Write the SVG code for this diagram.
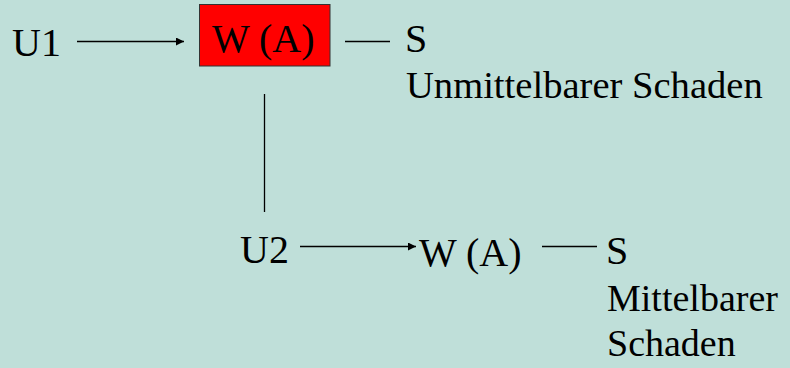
<svg xmlns="http://www.w3.org/2000/svg" width="790" height="368" viewBox="0 0 790 368">
<style>
.t{font-family:"Liberation Serif","Times New Roman",serif;fill:#000}
.big{font-size:40px}
.sm{font-size:38px}
.ln{stroke:#000;stroke-width:1.3;fill:none}
</style>
<defs>
<marker id="ah" viewBox="0 0 10 10" refX="10" refY="5" markerWidth="10" markerHeight="8" markerUnits="userSpaceOnUse" orient="auto">
<path d="M0,0 L10,5 L0,10 Z" fill="#000"/>
</marker>
</defs>
<rect width="790" height="368" fill="#BFDFD9"/>
<g id="connectors">
<line class="ln" x1="77" y1="41.5" x2="184" y2="41.5" marker-end="url(#ah)"/>
<line class="ln" x1="345" y1="41.5" x2="390" y2="41.5"/>
<line class="ln" x1="264.5" y1="94" x2="264.5" y2="212"/>
<line class="ln" x1="300" y1="246.5" x2="416" y2="246.5" marker-end="url(#ah)"/>
<line class="ln" x1="542" y1="246.5" x2="597" y2="246.5"/>
</g>
<g id="u1"><text class="t big" x="12" y="56">U1</text></g>
<g id="wa1">
<rect x="199.5" y="4.5" width="130.5" height="61.5" fill="#FF0000" stroke="#333" stroke-width="1"/>
<text class="t big" x="212" y="52">W (A)</text>
</g>
<g id="s1">
<text class="t big" x="405" y="52">S</text>
<text class="t sm" x="406" y="98" style="font-size:38.6px">Unmittelbarer Schaden</text>
</g>
<g id="u2"><text class="t big" x="240" y="263">U2</text></g>
<g id="wa2"><text class="t big" x="419" y="266">W (A)</text></g>
<g id="s2">
<text class="t big" x="606" y="264">S</text>
<text class="t sm" x="607" y="311">Mittelbarer</text>
<text class="t sm" x="607" y="356">Schaden</text>
</g>
</svg>
